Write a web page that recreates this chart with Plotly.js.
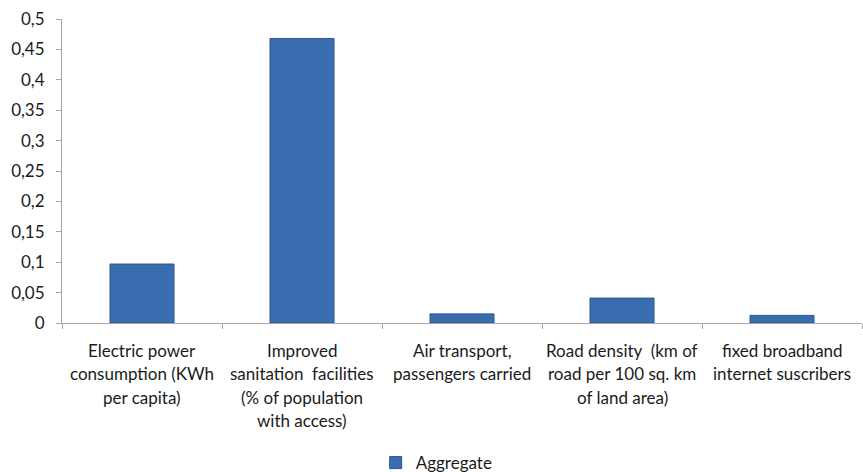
<!DOCTYPE html>
<html><head><meta charset="utf-8">
<script src="https://cdn.plot.ly/plotly-3.0.1.min.js"></script>
<style>html,body{margin:0;padding:0;background:#fff;}#chart{width:863px;height:472px;}</style>
</head><body><div id="chart"></div>
<script>
const categories = ["Electric power", "Improved sanitation", "Air transport", "Road density", "Fixed broadband"];
const labelLines = [
  ["Electric power", "consumption (KWh", "per capita)"],
  ["Improved", "sanitation  facilities", "(% of population", "with access)"],
  ["Air transport,", "passengers carried"],
  ["Road density  (km of", "road per 100 sq. km", "of land area)"],
  ["fixed broadband", "internet suscribers"]
];
const aggregate = [0.097, 0.468, 0.015, 0.041, 0.0125];
const seriesName = "Aggregate";

const font = "Lato, 'Open Sans', sans-serif";
const annotations = [];
labelLines.forEach((lines, i) => {
  lines.forEach((t, j) => {
    annotations.push({
      x: categories[i], xref: 'x', y: 0, yref: 'paper',
      yanchor: 'middle', xanchor: 'center', yshift: -27 - 23.5 * j,
      text: t, showarrow: false, font: {family: font, size: 17, color: '#1a1a1a'}
    });
  });
});

const trace = {
  type: 'bar', x: categories, y: aggregate, name: seriesName,
  width: 0.4,
  marker: {color: '#3a6cb0', line: {color: '#2c5590', width: 1}},
  showlegend: true
};

const layout = {
  width: 863, height: 472,
  margin: {l: 62, r: 1, t: 19, b: 149},
  paper_bgcolor: '#fff', plot_bgcolor: '#fff',
  separators: ',.',
  font: {family: font, size: 17, color: '#1a1a1a'},
  xaxis: {
    showticklabels: false, tickson: 'boundaries', ticks: 'outside', ticklen: 5,
    tickcolor: '#a6a6a6', showline: true, linecolor: '#a6a6a6', linewidth: 1,
    showgrid: false, zeroline: false, fixedrange: true
  },
  yaxis: {
    range: [0, 0.5], dtick: 0.05, tick0: 0, ticks: 'outside', ticklen: 5,
    tickcolor: '#a6a6a6', showline: true, linecolor: '#a6a6a6', linewidth: 1,
    showgrid: false, zeroline: false, ticklabelstandoff: 8,
    tickfont: {family: font, size: 17, color: '#1a1a1a'}
  },
  showlegend: true,
  legend: {orientation: 'h', xref: 'container', yref: 'container', x: 0.506, xanchor: 'center',
           y: 0.019, yanchor: 'middle', font: {family: font, size: 17, color: '#1a1a1a'},
           itemwidth: 20},
  annotations: annotations
};

Plotly.newPlot('chart', [trace], layout, {displayModeBar: false, staticPlot: true});
</script>
</body></html>
